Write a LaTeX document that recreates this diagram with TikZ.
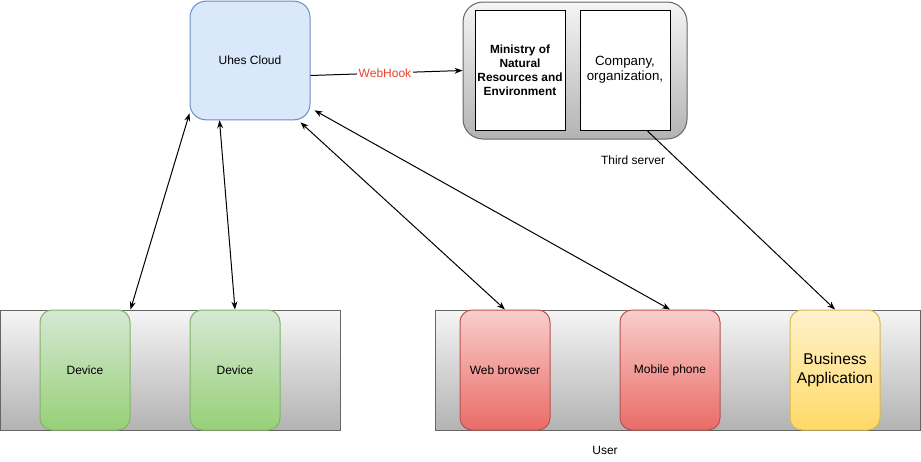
\documentclass[tikz,border=0pt]{standalone}
\usepackage{fontspec}
\setmainfont{Liberation Sans}
\usetikzlibrary{calc,arrows.meta}

\definecolor{cloudfill}{HTML}{DAE8FC}
\definecolor{clouddraw}{HTML}{6C8EBF}
\definecolor{greytop}{HTML}{F5F5F5}
\definecolor{greybot}{HTML}{B3B3B3}
\definecolor{greydraw}{HTML}{666666}
\definecolor{greentop}{HTML}{D5E8D4}
\definecolor{greenbot}{HTML}{97D077}
\definecolor{greendraw}{HTML}{82B366}
\definecolor{redtop}{HTML}{F8CECC}
\definecolor{redbot}{HTML}{EA6B66}
\definecolor{reddraw}{HTML}{B85450}
\definecolor{yellowtop}{HTML}{FFF2CC}
\definecolor{yellowbot}{HTML}{FFD966}
\definecolor{yellowdraw}{HTML}{D6B656}
\definecolor{hooktext}{HTML}{E8412C}

\tikzset{
  txt/.style={font=\fontsize{9}{11}\selectfont, text=black, align=center},
  panel/.style={draw=greydraw, line width=0.75pt, top color=greytop, bottom color=greybot,
    inner sep=0pt},
  block/.style={txt, line width=0.75pt, rounded corners=9pt, inner sep=0pt,
    minimum width=67.5pt, minimum height=90pt},
  devbox/.style={block, draw=greendraw, top color=greentop, bottom color=greenbot},
  userbox/.style={block, draw=reddraw, top color=redtop, bottom color=redbot},
  appbox/.style={block, draw=yellowdraw, top color=yellowtop, bottom color=yellowbot},
  partybox/.style={txt, draw=black, fill=white, line width=0.75pt, inner sep=0pt,
    minimum width=67.5pt, minimum height=90pt},
  link/.style={line width=0.75pt, {Stealth[length=6pt,width=4.5pt]}-{Stealth[length=6pt,width=4.5pt]}},
  onelink/.style={line width=0.75pt, -{Stealth[length=6pt,width=4.5pt]}}
}

\begin{document}
\begin{tikzpicture}[x=0.75pt,y=-0.75pt]
  \useasboundingbox (0,0) rectangle (921,461);

  % Drawing cloud
  \node [txt, draw=clouddraw, fill=cloudfill, line width=0.75pt, rounded corners=12pt,
    minimum width=90pt, minimum height=89pt] (cloud) at (250,60.5) {Uhes Cloud};

  % Drawing third server with its two parties
  \node [panel, rounded corners=15pt, minimum width=168pt, minimum height=102.75pt] (server) at (575,70.5) {};
  \node [partybox, font=\fontsize{8.9}{10.5}\selectfont\bfseries] (ministry) at (520,70)
    {Ministry of\\Natural\\Resources and\\Environment};
  \node [partybox, font=\fontsize{10}{11.25}\selectfont] (company) at (625,70) {Company,\\organization,};
  \node [txt] (thirdlabel) at (633,160) {Third server};

  % Drawing device panel
  \node [panel, minimum width=255pt, minimum height=90pt] (devpanel) at (170,370) {};
  \node [devbox] (dev1) at (85,370) {Device};
  \node [devbox] (dev2) at (235,370) {Device};

  % Drawing user panel
  \node [panel, minimum width=363.75pt, minimum height=90pt] (userpanel) at (677.5,370) {};
  \node [userbox] (web) at (505,370) {Web browser};
  \node [userbox, minimum width=75pt] (mobile) at (670,370) {Mobile phone};
  \node [appbox, font=\fontsize{11.7}{14}\selectfont] (business) at (835,370) {Business\\Application};
  \node [txt] (userlabel) at (605,450) {User};

  % Drawing connections
  \draw [onelink] ($(cloud.east)+(0,15)$) -- node [pos=0.49, fill=white, inner sep=1pt,
    font=\fontsize{9}{11}\selectfont, text=hooktext] (hook) {WebHook} (server.west);
  \draw [link] ($(cloud.south west)+(0,-7)$) -- (dev1.north east);
  \draw [link] ($(cloud.south west)+(30,0)$) -- (dev2.north);
  \draw [link] ($(cloud.south east)+(-10,2)$) -- (web.north);
  \draw [link] ($(cloud.south east)+(4,-10)$) -- (mobile.north);
  \draw [onelink] ($(company.south)+(22,0)$) -- (business.north);
\end{tikzpicture}
\end{document}
